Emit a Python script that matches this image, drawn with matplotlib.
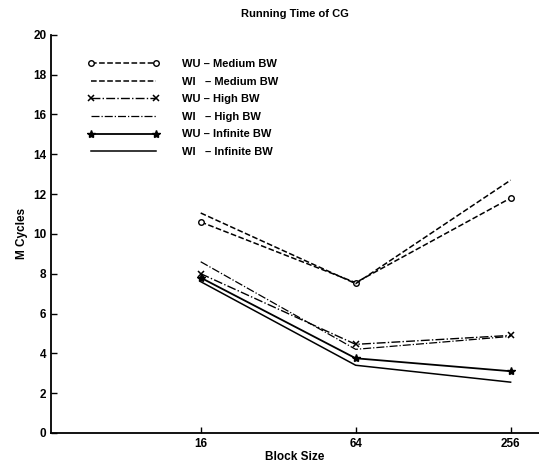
import matplotlib
matplotlib.use("Agg")
import matplotlib.pyplot as plt

plt.rcParams['font.family'] = ['Liberation Sans', 'DejaVu Sans']

block_size = [16, 64, 256]
wu_medium = [10.6, 7.55, 11.8]
wi_medium = [11.05, 7.5, 12.7]
wu_high = [8.0, 4.45, 4.9]
wi_high = [8.6, 4.2, 4.85]
wu_inf = [7.8, 3.75, 3.1]
wi_inf = [7.6, 3.4, 2.55]

fig = plt.figure(figsize=(5.39, 4.65), dpi=100)
ax = fig.add_axes([0.095, 0.069, 0.905, 0.856])

ax.plot(block_size, wu_medium, 'k--', marker='o', mfc='white', ms=4, mew=1, lw=1.1, label='WU \u2013 Medium BW')
ax.plot(block_size, wi_medium, 'k--', lw=1.1, label='WI   \u2013 Medium BW')
ax.plot(block_size, wu_high, 'k-.', marker='x', ms=5, mew=1.1, lw=1.0, label='WU \u2013 High BW')
ax.plot(block_size, wi_high, 'k-.', lw=0.9, label='WI   \u2013 High BW')
ax.plot(block_size, wu_inf, 'k-', marker='*', ms=6, lw=1.3, label='WU \u2013 Infinite BW')
ax.plot(block_size, wi_inf, 'k-', lw=1.1, label='WI   \u2013 Infinite BW')

ax.set_xscale('log', base=2)
ax.set_xlim(4.2, 330)
ax.set_ylim(0, 20)
ax.set_xticks(block_size)
ax.set_xticklabels([str(b) for b in block_size])
ax.minorticks_off()
ax.set_yticks(range(0, 21, 2))

for s in ['top', 'right']:
    ax.spines[s].set_visible(False)
ax.spines['left'].set_linewidth(1.3)
ax.spines['bottom'].set_linewidth(1.3)
ax.tick_params(direction='in', length=4, width=1, labelsize=8.5)
for t in ax.get_xticklabels() + ax.get_yticklabels():
    t.set_fontweight('bold')

ax.set_title('Running Time of CG', fontsize=8, fontweight='bold', pad=13)
ax.set_xlabel('Block Size', fontsize=8.5, fontweight='bold', labelpad=1)
ax.set_ylabel('M Cycles', fontsize=8.5, fontweight='bold', labelpad=4)

leg = ax.legend(loc='upper left', bbox_to_anchor=(0.065, 0.95), frameon=False,
                fontsize=8, handlelength=6.5, handletextpad=2.0,
                labelspacing=0.68, numpoints=2, borderaxespad=0)
for t in leg.get_texts():
    t.set_fontweight('bold')

fig.savefig('out.png', dpi=100)
